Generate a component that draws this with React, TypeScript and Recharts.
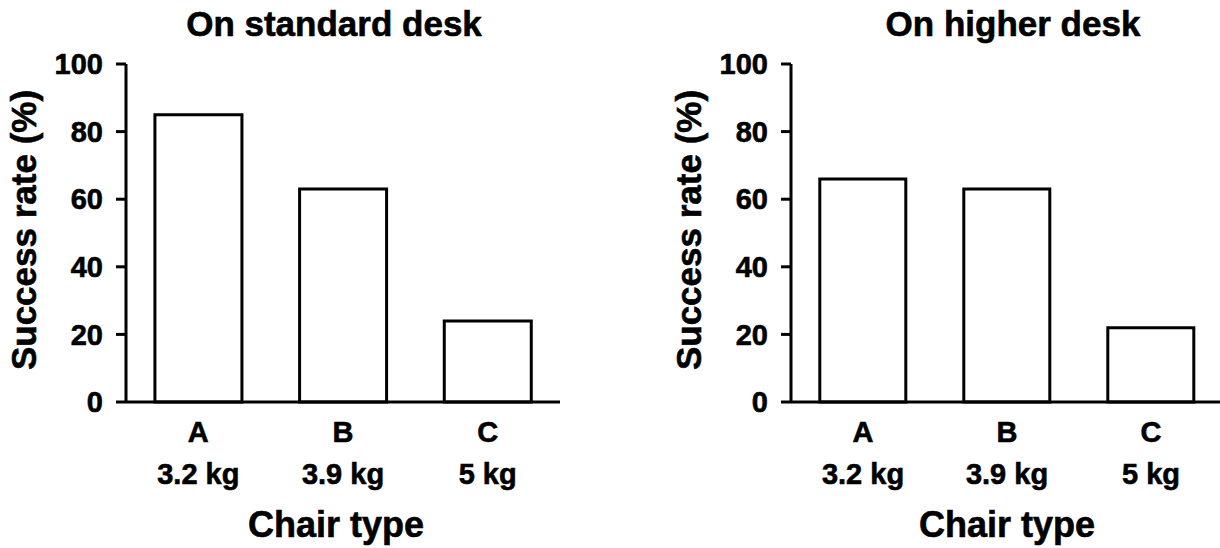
import React from 'react';
import { BarChart, Bar, XAxis, YAxis } from 'recharts';

const categories = ['A', 'B', 'C'];
const weights = ['3.2 kg', '3.9 kg', '5 kg'];
const standardDesk = [85, 63, 24];
const higherDesk = [66, 63, 22];
const yTicks = [0, 20, 40, 60, 80, 100];

const FONT = '"Liberation Sans", Arial, sans-serif';

const buildRows = (values: number[]) =>
    categories.map((c, i) => ({ chair: c, weight: weights[i], value: values[i] }));

const labelStyle: React.CSSProperties = {
    position: 'absolute',
    textAlign: 'center',
    fontFamily: FONT,
    fontWeight: 'bold',
    lineHeight: '40px',
    height: 40,
    width: 400,
    whiteSpace: 'nowrap',
    WebkitTextStroke: '0.6px #000',
};

const ChairTick = (props: any) => {
    const { x, y, payload, index } = props;
    const common = {
        x,
        textAnchor: 'middle' as const,
        fontFamily: FONT,
        fontWeight: 'bold',
        fontSize: 29,
        fill: '#000',
        stroke: '#000',
        strokeWidth: 0.6,
    };
    return (
        <g>
            <text {...common} y={y + 40}>{payload.value}</text>
            <text {...common} y={y + 82}>{weights[index]}</text>
        </g>
    );
};

interface PanelProps {
    title: string;
    values: number[];
    left: number;
    width: number;
    titleX: number;
    xLabelX: number;
}

// one panel: plot area starts 126px into the chart, 64px from the top
const Panel = ({ title, values, left, width, titleX, xLabelX }: PanelProps) => (
    <>
        <div style={{ ...labelStyle, left: titleX - 200, top: 4, fontSize: 35 }}>{title}</div>
        <div
            style={{
                ...labelStyle,
                left: left + 24 - 200,
                top: 230 - 20,
                fontSize: 35,
                transform: 'rotate(-90deg)',
            }}
        >
            Success rate (%)
        </div>
        <div style={{ ...labelStyle, left: xLabelX - 200, top: 505, fontSize: 36 }}>Chair type</div>
        <div style={{ position: 'absolute', left, top: 0 }}>
            <BarChart
                width={width}
                height={548}
                data={buildRows(values)}
                margin={{ top: 64, right: 0, left: 0, bottom: 0 }}
                barCategoryGap="20%"
            >
                <XAxis
                    dataKey="chair"
                    height={146}
                    axisLine={{ stroke: '#000', strokeWidth: 3 }}
                    tickLine={false}
                    tickSize={0}
                    tickMargin={0}
                    tick={<ChairTick />}
                    interval={0}
                />
                <YAxis
                    width={126}
                    domain={[0, 100]}
                    ticks={yTicks}
                    interval={0}
                    axisLine={{ stroke: '#000', strokeWidth: 3 }}
                    tickLine={{ stroke: '#000', strokeWidth: 3 }}
                    tickSize={10}
                    tickMargin={13}
                    tick={{
                        fill: '#000',
                        stroke: '#000',
                        strokeWidth: 0.6,
                        fontFamily: FONT,
                        fontWeight: 'bold',
                        fontSize: 29,
                    }}
                />
                <Bar
                    dataKey="value"
                    fill="#fff"
                    stroke="#000"
                    strokeWidth={3}
                    isAnimationActive={false}
                />
            </BarChart>
        </div>
    </>
);

export default function App() {
    return (
        <div
            style={{
                position: 'fixed',
                left: 0,
                top: 0,
                width: 1220,
                height: 548,
                overflow: 'hidden',
                background: '#fff',
            }}
        >
            <Panel title="On standard desk" values={standardDesk} left={0} width={560} titleX={334} xLabelX={336} />
            <Panel title="On higher desk" values={higherDesk} left={665} width={558} titleX={1013} xLabelX={1007} />
        </div>
    );
}
